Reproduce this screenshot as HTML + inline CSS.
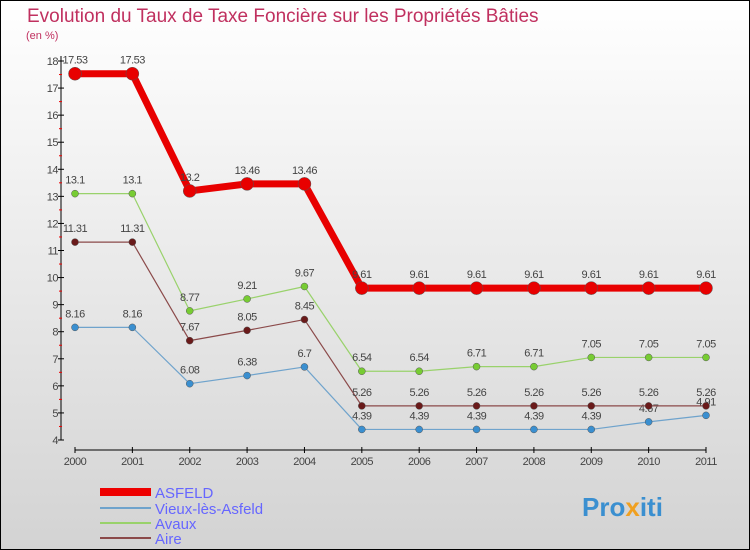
<!DOCTYPE html>
<html><head><meta charset="utf-8"><style>
body{margin:0}
svg{display:block;font-family:"Liberation Sans",sans-serif}
</style></head><body>
<svg id="c" width="750" height="550">
<defs><linearGradient id="bg" x1="0" y1="0" x2="0" y2="1"><stop offset="0" stop-color="#ffffff"/><stop offset="1" stop-color="#d3d3d3"/></linearGradient></defs>
<rect x="0.5" y="0.5" width="749" height="549" fill="url(#bg)" stroke="#000"/>
<text x="27" y="22" font-size="19" fill="#c0305f">Evolution du Taux de Taxe Foncière sur les Propriétés Bâties</text>
<text x="26" y="39" font-size="11" fill="#c0305f">(en %)</text>
<g id="axes"></g><g id="series"></g>
<g>
<rect x="100" y="488" width="51" height="8" fill="#e00"/>
<text x="155" y="498" font-size="15" fill="#6666ff">ASFELD</text>
<line x1="100" y1="508" x2="151" y2="508" stroke="#6fa3cc" stroke-width="2"/>
<text x="155" y="514" font-size="15" fill="#6666ff">Vieux-lès-Asfeld</text>
<line x1="100" y1="523" x2="151" y2="523" stroke="#99d26b" stroke-width="2"/>
<text x="155" y="529" font-size="15" fill="#6666ff">Avaux</text>
<line x1="100" y1="538" x2="151" y2="538" stroke="#8b4a4a" stroke-width="2"/>
<text x="155" y="544" font-size="15" fill="#6666ff">Aire</text>
</g>
<text x="582" y="516" font-size="26" font-weight="bold" fill="#3a8fd0">Pro<tspan fill="#f0a020">x</tspan>iti</text>
</svg>
<script>
const years=[2000,2001,2002,2003,2004,2005,2006,2007,2008,2009,2010,2011];
const asfeld=[17.53,17.53,13.2,13.46,13.46,9.61,9.61,9.61,9.61,9.61,9.61,9.61];
const vieux=[8.16,8.16,6.08,6.38,6.7,4.39,4.39,4.39,4.39,4.39,4.67,4.91];
const avaux=[13.1,13.1,8.77,9.21,9.67,6.54,6.54,6.71,6.71,7.05,7.05,7.05];
const aire=[11.31,11.31,7.67,8.05,8.45,5.26,5.26,5.26,5.26,5.26,5.26,5.26];
const yTicks=[4,5,6,7,8,9,10,11,12,13,14,15,16,17,18];
const NS="http://www.w3.org/2000/svg";
const xs=i=>75+i*(706-75)/(years.length-1);
const ys=v=>440-(v-4)*(440-61)/14;
function mk(t,a,p){const e=document.createElementNS(NS,t);for(const k in a)e.setAttribute(k,a[k]);(p||document.getElementById('series')).appendChild(e);return e;}
const ax=document.getElementById('axes');
let e=mk('line',{x1:61,y1:56,x2:61,y2:440,stroke:'#000'},ax);


e=mk('line',{x1:75,y1:450,x2:706,y2:450,stroke:'#000'},ax);


yTicks.forEach((v,i)=>{
  mk('line',{x1:58,y1:ys(v),x2:64,y2:ys(v),stroke:'#000'},ax);
  if(i<yTicks.length-1)mk('line',{x1:59,y1:ys(v+0.5),x2:62,y2:ys(v+0.5),stroke:'#e00'},ax);
  const t=mk('text',{x:58,y:ys(v)+4,'font-size':11,fill:'#444','text-anchor':'end','letter-spacing':'-0.5'},ax);
  t.textContent=v;
  
  
});
years.forEach((y,i)=>{
  mk('line',{x1:xs(i),y1:447,x2:xs(i),y2:453,stroke:'#000'},ax);
  const t=mk('text',{x:xs(i),y:465,'font-size':11,fill:'#444','text-anchor':'middle','letter-spacing':'-0.5'},ax);
  t.textContent=y;
  
  
});
function series(d,name,col,w,r,dot){
  const g=mk('g',{});
  
  
  const pl=mk('polyline',{points:d.map((v,i)=>xs(i)+','+ys(v)).join(' '),fill:'none',stroke:col,'stroke-width':w,'stroke-linejoin':'round'},g);
  
  
  d.forEach((v,i)=>{
    const c=mk('circle',{cx:xs(i),cy:ys(v),r:r,fill:dot,stroke:'#555','stroke-width':0.5},g);
    
    
    const t=mk('text',{x:xs(i),y:ys(v)-10,'font-size':11,fill:'#444','text-anchor':'middle','letter-spacing':'-0.5'},g);
    t.textContent=v;
    
    
  });
}
series(vieux,'vieux','#6fa3cc',1.2,3.5,'#3a8fd0');
series(aire,'aire','#8b4a4a',1.2,3.5,'#6a1a1a');
series(avaux,'avaux','#99d26b',1.2,3.5,'#77cc33');
series(asfeld,'asfeld','#e80000',7,6.5,'#e80000');
</script>
</body></html>
